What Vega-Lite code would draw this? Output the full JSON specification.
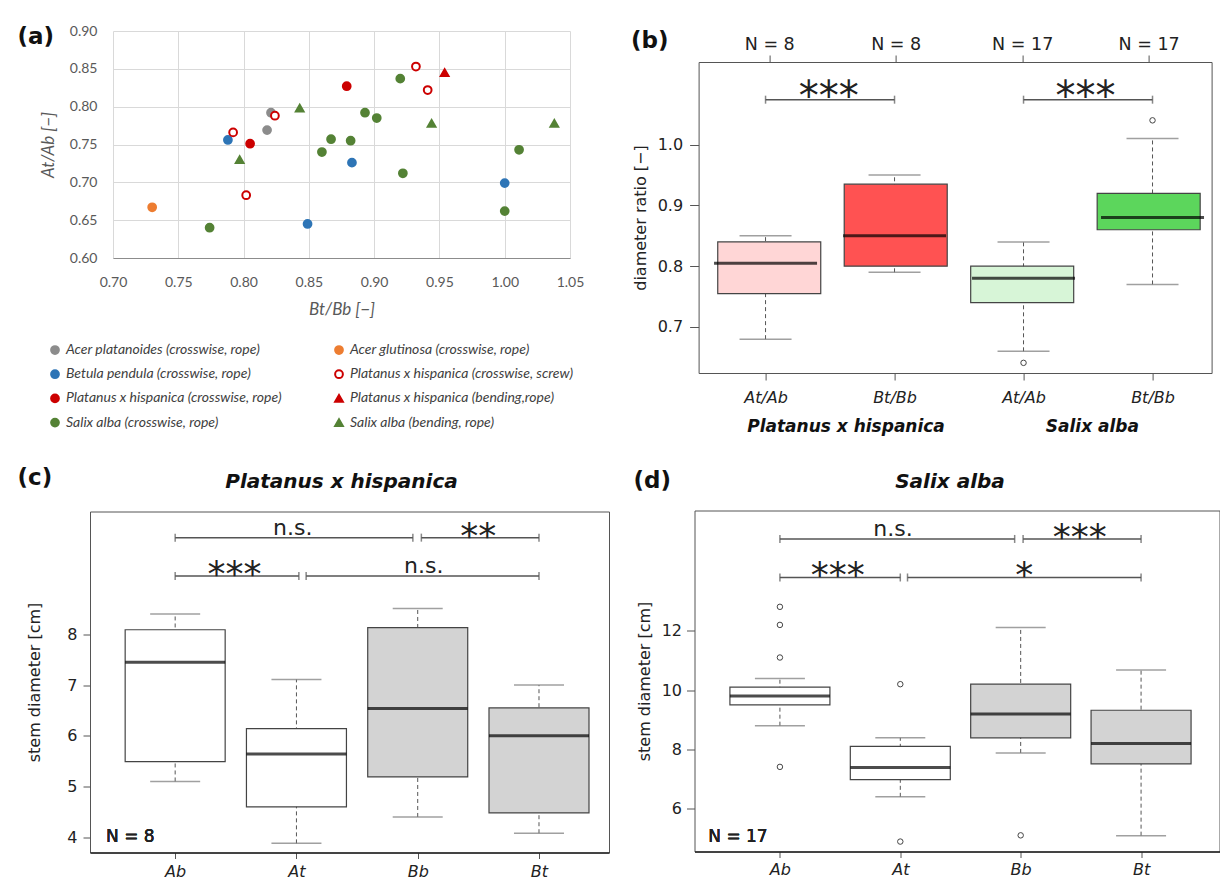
{
  "$schema": "https://vega.github.io/schema/vega-lite/v6.json",
  "background": "white",
  "padding": {"left": 16, "top": 23, "right": 0, "bottom": 0},
  "config": {
    "view": {"stroke": null},
    "font": "DejaVu Sans",
    "axis": {"labelColor": "#222", "titleColor": "#222", "tickColor": "#555", "titleFontWeight": "normal", "labelFont": "DejaVu Sans", "titleFont": "DejaVu Sans"},
    "title": {"color": "#111"}
  },
  "resolve": {"scale": {"fill": "independent", "stroke": "independent", "shape": "independent"}, "legend": {"fill": "independent", "stroke": "independent", "shape": "independent"}},
  "vconcat": [
    {
      "resolve": {"scale": {"fill": "independent", "stroke": "independent", "shape": "independent"}, "legend": {"fill": "independent", "stroke": "independent", "shape": "independent"}},
      "hconcat": [
        {
          "resolve": {"scale": {"fill": "independent", "stroke": "independent", "shape": "independent"}, "legend": {"fill": "independent", "stroke": "independent", "shape": "independent"}},
          "hconcat": [
            {"width": 1, "height": 1, "data": {"values": []}, "mark": "point", "encoding": {}},
            {
              "resolve": {"scale": {"fill": "independent", "stroke": "independent", "shape": "independent"}, "legend": {"fill": "independent", "stroke": "independent", "shape": "independent"}},
              "vconcat": [
                {"width": 1, "height": 1, "data": {"values": []}, "mark": "point", "encoding": {}},
                {
                  "width": 457, "height": 227,
                  "title": {"text": "(a)", "anchor": "start", "frame": "group", "offset": -25, "dx": -95.5, "fontSize": 23, "fontWeight": "bold", "font": "DejaVu Sans", "color": "#111"},
                  "data": {"values": [
                    {"series": "Acer platanoides (crosswise, rope)", "bt_bb": 0.821, "at_ab": 0.792},
                    {"series": "Acer platanoides (crosswise, rope)", "bt_bb": 0.818, "at_ab": 0.769},
                    {"series": "Acer glutinosa (crosswise, rope)", "bt_bb": 0.730, "at_ab": 0.667},
                    {"series": "Betula pendula (crosswise, rope)", "bt_bb": 0.788, "at_ab": 0.756},
                    {"series": "Betula pendula (crosswise, rope)", "bt_bb": 0.883, "at_ab": 0.726},
                    {"series": "Betula pendula (crosswise, rope)", "bt_bb": 0.849, "at_ab": 0.645},
                    {"series": "Betula pendula (crosswise, rope)", "bt_bb": 1.000, "at_ab": 0.699},
                    {"series": "Platanus x hispanica (crosswise, rope)", "bt_bb": 0.805, "at_ab": 0.751},
                    {"series": "Platanus x hispanica (crosswise, rope)", "bt_bb": 0.879, "at_ab": 0.827},
                    {"series": "Platanus x hispanica (crosswise, screw)", "bt_bb": 0.792, "at_ab": 0.766},
                    {"series": "Platanus x hispanica (crosswise, screw)", "bt_bb": 0.824, "at_ab": 0.788},
                    {"series": "Platanus x hispanica (crosswise, screw)", "bt_bb": 0.802, "at_ab": 0.683},
                    {"series": "Platanus x hispanica (crosswise, screw)", "bt_bb": 0.932, "at_ab": 0.853},
                    {"series": "Platanus x hispanica (crosswise, screw)", "bt_bb": 0.941, "at_ab": 0.822},
                    {"series": "Platanus x hispanica (bending,rope)", "bt_bb": 0.954, "at_ab": 0.845},
                    {"series": "Salix alba (crosswise, rope)", "bt_bb": 0.774, "at_ab": 0.640},
                    {"series": "Salix alba (crosswise, rope)", "bt_bb": 0.860, "at_ab": 0.740},
                    {"series": "Salix alba (crosswise, rope)", "bt_bb": 0.867, "at_ab": 0.757},
                    {"series": "Salix alba (crosswise, rope)", "bt_bb": 0.882, "at_ab": 0.755},
                    {"series": "Salix alba (crosswise, rope)", "bt_bb": 0.893, "at_ab": 0.792},
                    {"series": "Salix alba (crosswise, rope)", "bt_bb": 0.902, "at_ab": 0.785},
                    {"series": "Salix alba (crosswise, rope)", "bt_bb": 0.920, "at_ab": 0.837},
                    {"series": "Salix alba (crosswise, rope)", "bt_bb": 0.922, "at_ab": 0.712},
                    {"series": "Salix alba (crosswise, rope)", "bt_bb": 1.000, "at_ab": 0.662},
                    {"series": "Salix alba (crosswise, rope)", "bt_bb": 1.011, "at_ab": 0.743},
                    {"series": "Salix alba (bending, rope)", "bt_bb": 0.797, "at_ab": 0.730},
                    {"series": "Salix alba (bending, rope)", "bt_bb": 0.843, "at_ab": 0.798},
                    {"series": "Salix alba (bending, rope)", "bt_bb": 0.944, "at_ab": 0.778},
                    {"series": "Salix alba (bending, rope)", "bt_bb": 1.038, "at_ab": 0.778}
                  ]},
                  "mark": {"type": "point", "size": 60, "strokeWidth": 2, "opacity": 1},
                  "encoding": {
                    "x": {"field": "bt_bb", "type": "quantitative", "scale": {"domain": [0.7, 1.05], "nice": false, "zero": false},
                      "axis": {"title": "Bt/Bb [−]", "values": [0.7, 0.75, 0.8, 0.85, 0.9, 0.95, 1.0, 1.05], "format": ".2f", "grid": true, "gridColor": "#d9d9d9", "ticks": false, "tickSize": 0, "domain": true, "domainColor": "#8c8c8c", "domainWidth": 1.2, "labelFont": "Lato", "labelFontSize": 14, "labelColor": "#595959", "labelPadding": 17, "labelFlush": false, "labelOverlap": false, "titleFont": "Lato", "titleFontSize": 17, "titleFontStyle": "italic", "titleFontWeight": "normal", "titleColor": "#595959", "titlePadding": 12}},
                    "y": {"field": "at_ab", "type": "quantitative", "scale": {"domain": [0.6, 0.9], "nice": false, "zero": false},
                      "axis": {"title": "At/Ab [−]", "values": [0.6, 0.65, 0.7, 0.75, 0.8, 0.85, 0.9], "format": ".2f", "grid": true, "gridColor": "#d9d9d9", "ticks": false, "tickSize": 0, "domain": false, "labelFont": "Lato", "labelFontSize": 14, "labelColor": "#595959", "labelPadding": 16, "labelOverlap": false, "titleFont": "Lato", "titleFontSize": 17, "titleFontStyle": "italic", "titleFontWeight": "normal", "titleColor": "#595959", "titlePadding": 12}},
                    "shape": {"field": "series", "type": "nominal", "scale": {
                      "domain": ["Acer platanoides (crosswise, rope)", "Betula pendula (crosswise, rope)", "Platanus x hispanica (crosswise, rope)", "Salix alba (crosswise, rope)", "Acer glutinosa (crosswise, rope)", "Platanus x hispanica (crosswise, screw)", "Platanus x hispanica (bending,rope)", "Salix alba (bending, rope)"],
                      "range": ["circle", "circle", "circle", "circle", "circle", "circle", "triangle-up", "triangle-up"]},
                      "legend": {"title": null, "orient": "none", "legendX": -65, "legendY": 312, "columns": 2, "columnPadding": 49, "rowPadding": 8.2, "padding": 0, "labelFont": "Lato", "labelFontStyle": "italic", "labelFontSize": 14, "labelColor": "#404040", "labelLimit": 400, "labelOffset": 4, "symbolSize": 60, "symbolStrokeWidth": 2}},
                    "stroke": {"field": "series", "type": "nominal", "scale": {
                      "domain": ["Acer platanoides (crosswise, rope)", "Betula pendula (crosswise, rope)", "Platanus x hispanica (crosswise, rope)", "Salix alba (crosswise, rope)", "Acer glutinosa (crosswise, rope)", "Platanus x hispanica (crosswise, screw)", "Platanus x hispanica (bending,rope)", "Salix alba (bending, rope)"],
                      "range": ["#8c8c8c", "#2E75B6", "#CC0000", "#548235", "#ED7D31", "#CC0000", "#CC0000", "#548235"]},
                      "legend": {"title": null, "orient": "none", "legendX": -65, "legendY": 312, "columns": 2, "columnPadding": 49, "rowPadding": 8.2, "padding": 0, "labelFont": "Lato", "labelFontStyle": "italic", "labelFontSize": 14, "labelColor": "#404040", "labelLimit": 400, "labelOffset": 4, "symbolSize": 60, "symbolStrokeWidth": 2}},
                    "fill": {"field": "series", "type": "nominal", "scale": {
                      "domain": ["Acer platanoides (crosswise, rope)", "Betula pendula (crosswise, rope)", "Platanus x hispanica (crosswise, rope)", "Salix alba (crosswise, rope)", "Acer glutinosa (crosswise, rope)", "Platanus x hispanica (crosswise, screw)", "Platanus x hispanica (bending,rope)", "Salix alba (bending, rope)"],
                      "range": ["#8c8c8c", "#2E75B6", "#CC0000", "#548235", "#ED7D31", "#FFFFFF", "#CC0000", "#548235"]},
                      "legend": {"title": null, "orient": "none", "legendX": -65, "legendY": 312, "columns": 2, "columnPadding": 49, "rowPadding": 8.2, "padding": 0, "labelFont": "Lato", "labelFontStyle": "italic", "labelFontSize": 14, "labelColor": "#404040", "labelLimit": 400, "labelOffset": 4, "symbolSize": 60, "symbolStrokeWidth": 2}}
                  }
                }
              ],
              "spacing": 0
            }
          ],
          "spacing": 0
        },
        {
          "hconcat": [
            {"width": 1, "height": 1, "data": {"values": []}, "mark": "point", "encoding": {}},
            {
              "vconcat": [
                {"width": 1, "height": 1, "data": {"values": []}, "mark": "point", "encoding": {}},
                {
                  "width": 513, "height": 311,
                  "view": {"stroke": "#555", "strokeWidth": 1},
                  "title": {"text": "(b)", "anchor": "start", "frame": "group", "offset": -28.5, "dx": -67.5, "fontSize": 23, "fontWeight": "bold", "color": "#111"},
                  "data": {"values": [
                    {"box": "Platanus At/Ab", "pos": 1, "lo": 0.68, "q1": 0.755, "med": 0.805, "q3": 0.84, "hi": 0.85},
                    {"box": "Platanus Bt/Bb", "pos": 2, "lo": 0.79, "q1": 0.80, "med": 0.85, "q3": 0.935, "hi": 0.95},
                    {"box": "Salix At/Ab", "pos": 3, "lo": 0.66, "q1": 0.74, "med": 0.78, "q3": 0.80, "hi": 0.84},
                    {"box": "Salix Bt/Bb", "pos": 4, "lo": 0.77, "q1": 0.86, "med": 0.88, "q3": 0.92, "hi": 1.01}
                  ]},
                  "resolve": {"scale": {"x": "independent"}, "axis": {"y": "independent"}},
                  "layer": [
                    {
                      "mark": {"type": "rule", "strokeDash": [4, 3], "color": "#555", "strokeWidth": 1},
                      "encoding": {
                        "x": {"field": "pos", "type": "quantitative", "scale": {"domain": [0.481, 4.458], "nice": false, "zero": false},
                          "axis": {"orient": "bottom", "title": null, "values": [1, 2, 3, 4], "labelExpr": "datum.value % 2 == 1 ? 'At/Ab' : 'Bt/Bb'", "grid": false, "domain": false, "ticks": true, "tickSize": 7, "tickColor": "#555", "labelFontSize": 16, "labelFontStyle": "italic", "labelPadding": 9, "labelFlush": false, "labelOverlap": false}},
                        "y": {"field": "lo", "type": "quantitative", "scale": {"domain": [0.6243, 1.136], "nice": false, "zero": false},
                          "axis": {"orient": "left", "title": "diameter ratio [−]", "values": [0.7, 0.8, 0.9, 1.0], "format": ".1f", "grid": false, "domain": false, "ticks": true, "tickSize": 9, "labelFontSize": 16, "labelPadding": 7, "titleFontSize": 16, "titlePadding": 9, "labelOverlap": false}},
                        "y2": {"field": "hi"}
                      }
                    },
                    {
                      "mark": {"type": "tick", "orient": "horizontal", "size": 52, "thickness": 1.5, "color": "#777"},
                      "encoding": {
                        "x": {"field": "pos", "type": "quantitative", "scale": {"domain": [0.481, 4.458], "nice": false, "zero": false}, "axis": null},
                        "y": {"field": "lo", "type": "quantitative", "scale": {"domain": [0.6243, 1.136], "nice": false, "zero": false}, "axis": null}
                      }
                    },
                    {
                      "mark": {"type": "tick", "orient": "horizontal", "size": 52, "thickness": 1.5, "color": "#777"},
                      "encoding": {
                        "x": {"field": "pos", "type": "quantitative", "scale": {"domain": [0.481, 4.458], "nice": false, "zero": false}, "axis": null},
                        "y": {"field": "hi", "type": "quantitative", "scale": {"domain": [0.6243, 1.136], "nice": false, "zero": false}, "axis": null}
                      }
                    },
                    {
                      "mark": {"type": "bar", "width": 103, "stroke": "#444", "strokeWidth": 1.2},
                      "encoding": {
                        "x": {"field": "pos", "type": "quantitative", "scale": {"domain": [0.481, 4.458], "nice": false, "zero": false},
                          "axis": {"orient": "top", "title": " ", "titleColor": "#ffffff", "titleFontSize": 10, "titlePadding": 0.5, "values": [1, 2, 3, 4], "labelExpr": "datum.value <= 2 ? 'N = 8' : 'N = 17'", "grid": false, "domain": false, "ticks": true, "tickSize": 7, "tickColor": "#555", "labelFontSize": 17.5, "labelPadding": 2, "labelFlush": false, "labelOverlap": false}},
                        "y": {"field": "q1", "type": "quantitative", "scale": {"domain": [0.6243, 1.136], "nice": false, "zero": false}, "axis": null},
                        "y2": {"field": "q3"},
                        "fill": {"field": "box", "type": "nominal", "scale": {"domain": ["Platanus At/Ab", "Platanus Bt/Bb", "Salix At/Ab", "Salix Bt/Bb"], "range": ["#FFD6D6", "#FF5252", "#D7F5D7", "#5CD65C"]}, "legend": null}
                      }
                    },
                    {
                      "mark": {"type": "tick", "orient": "horizontal", "size": 103, "thickness": 3, "color": "#000"},
                      "encoding": {
                        "x": {"field": "pos", "type": "quantitative", "scale": {"domain": [0.481, 4.458], "nice": false, "zero": false},
                          "axis": {"orient": "bottom", "title": null, "values": [1.62, 3.53], "labelExpr": "datum.value < 2.5 ? 'Platanus x hispanica' : 'Salix alba'", "grid": false, "domain": false, "ticks": false, "tickSize": 0, "labelFontSize": 17, "labelFontWeight": "bold", "labelFontStyle": "italic", "labelColor": "#111", "labelPadding": 45, "labelLimit": 400, "labelFlush": false, "labelOverlap": false}},
                        "y": {"field": "med", "type": "quantitative", "scale": {"domain": [0.6243, 1.136], "nice": false, "zero": false}, "axis": null}
                      }
                    },
                    {
                      "data": {"values": [{"pos": 3, "val": 0.641}, {"pos": 4, "val": 1.040}]},
                      "mark": {"type": "point", "shape": "circle", "size": 30, "stroke": "#444", "strokeWidth": 1, "filled": false, "opacity": 1},
                      "encoding": {
                        "x": {"field": "pos", "type": "quantitative", "scale": {"domain": [0.481, 4.458], "nice": false, "zero": false}, "axis": null},
                        "y": {"field": "val", "type": "quantitative", "scale": {"domain": [0.6243, 1.136], "nice": false, "zero": false}, "axis": null}
                      }
                    },
                    {
                      "data": {"values": [{"x1": 1, "x2": 2, "xm": 1.49, "y": 1.074, "label": "***"}, {"x1": 3, "x2": 4, "xm": 3.48, "y": 1.074, "label": "***"}]},
                      "layer": [
                        {
                          "mark": {"type": "rule", "color": "#555", "strokeWidth": 1.5},
                          "encoding": {
                            "x": {"field": "x1", "type": "quantitative", "scale": {"domain": [0.481, 4.458], "nice": false, "zero": false}, "axis": null},
                            "x2": {"field": "x2"},
                            "y": {"field": "y", "type": "quantitative", "scale": {"domain": [0.6243, 1.136], "nice": false, "zero": false}, "axis": null}
                          }
                        },
                        {
                          "mark": {"type": "tick", "orient": "vertical", "size": 8, "thickness": 1.5, "color": "#555"},
                          "encoding": {
                            "x": {"field": "x1", "type": "quantitative", "scale": {"domain": [0.481, 4.458], "nice": false, "zero": false}, "axis": null},
                            "y": {"field": "y", "type": "quantitative", "scale": {"domain": [0.6243, 1.136], "nice": false, "zero": false}, "axis": null}
                          }
                        },
                        {
                          "mark": {"type": "tick", "orient": "vertical", "size": 8, "thickness": 1.5, "color": "#555"},
                          "encoding": {
                            "x": {"field": "x2", "type": "quantitative", "scale": {"domain": [0.481, 4.458], "nice": false, "zero": false}, "axis": null},
                            "y": {"field": "y", "type": "quantitative", "scale": {"domain": [0.6243, 1.136], "nice": false, "zero": false}, "axis": null}
                          }
                        },
                        {
                          "mark": {"type": "text", "fontSize": 40, "dy": 10, "baseline": "alphabetic", "align": "center", "color": "#222"},
                          "encoding": {
                            "x": {"field": "xm", "type": "quantitative", "scale": {"domain": [0.481, 4.458], "nice": false, "zero": false}, "axis": null},
                            "y": {"field": "y", "type": "quantitative", "scale": {"domain": [0.6243, 1.136], "nice": false, "zero": false}, "axis": null},
                            "text": {"field": "label"}
                          }
                        }
                      ]
                    }
                  ]
                }
              ],
              "spacing": 0
            }
          ],
          "spacing": 0
        }
      ],
      "spacing": 45.6
    },
    {
      "resolve": {"scale": {"fill": "independent", "stroke": "independent", "shape": "independent"}, "legend": {"fill": "independent", "stroke": "independent", "shape": "independent"}},
      "hconcat": [
        {
          "hconcat": [
            {"width": 1, "height": 1, "data": {"values": []}, "mark": "point", "encoding": {}},
            {
              "vconcat": [
                {"width": 1, "height": 1, "data": {"values": []}, "mark": "point", "encoding": {}},
                {
                  "title": {"text": "(c)", "anchor": "start", "frame": "group", "offset": -19, "dx": -72.5, "fontSize": 23, "fontWeight": "bold", "color": "#111"},
                  "vconcat": [
                    {
                      "width": 519, "height": 341,
                      "view": {"stroke": "#555", "strokeWidth": 1},
                      "title": {"text": "Platanus x hispanica", "anchor": "middle", "frame": "group", "offset": 20, "dx": -8, "fontSize": 20, "fontWeight": "bold", "fontStyle": "italic", "color": "#111"},
                      "data": {"values": [
                        {"cat": "Ab", "pos": 1, "lo": 5.10, "q1": 5.49, "med": 7.45, "q3": 8.09, "hi": 8.40},
                        {"cat": "At", "pos": 2, "lo": 3.88, "q1": 4.60, "med": 5.64, "q3": 6.14, "hi": 7.11},
                        {"cat": "Bb", "pos": 3, "lo": 4.40, "q1": 5.19, "med": 6.54, "q3": 8.13, "hi": 8.51},
                        {"cat": "Bt", "pos": 4, "lo": 4.08, "q1": 4.48, "med": 6.00, "q3": 6.55, "hi": 7.00}
                      ]},
                      "resolve": {"axis": {"x": "independent", "y": "independent"}},
                      "layer": [
                        {
                          "mark": {"type": "rule", "strokeDash": [4, 3], "color": "#555", "strokeWidth": 1},
                          "encoding": {
                            "x": {"field": "pos", "type": "quantitative", "scale": {"domain": [0.339, 4.536], "nice": false, "zero": false},
                              "axis": {"orient": "bottom", "title": null, "values": [1, 2, 3, 4], "labelExpr": "datum.value == 1 ? 'Ab' : datum.value == 2 ? 'At' : datum.value == 3 ? 'Bb' : 'Bt'", "grid": false, "domain": true, "domainColor": "#222", "domainWidth": 1.5, "ticks": true, "tickSize": 6, "labelFontSize": 16, "labelFontStyle": "italic", "labelPadding": 5, "labelFlush": false, "labelOverlap": false}},
                            "y": {"field": "lo", "type": "quantitative", "scale": {"domain": [3.70, 10.42], "nice": false, "zero": false},
                              "axis": {"orient": "left", "title": "stem diameter [cm]", "values": [4, 5, 6, 7, 8], "grid": false, "domain": false, "ticks": true, "tickSize": 7, "labelFontSize": 16, "labelPadding": 6, "titleFontSize": 16, "titlePadding": 24.5, "labelOverlap": false}},
                            "y2": {"field": "hi"}
                          }
                        },
                        {
                          "mark": {"type": "tick", "orient": "horizontal", "size": 50, "thickness": 1.5, "color": "#777"},
                          "encoding": {
                            "x": {"field": "pos", "type": "quantitative", "scale": {"domain": [0.339, 4.536], "nice": false, "zero": false}, "axis": null},
                            "y": {"field": "lo", "type": "quantitative", "scale": {"domain": [3.70, 10.42], "nice": false, "zero": false}, "axis": null}
                          }
                        },
                        {
                          "mark": {"type": "tick", "orient": "horizontal", "size": 50, "thickness": 1.5, "color": "#777"},
                          "encoding": {
                            "x": {"field": "pos", "type": "quantitative", "scale": {"domain": [0.339, 4.536], "nice": false, "zero": false}, "axis": null},
                            "y": {"field": "hi", "type": "quantitative", "scale": {"domain": [3.70, 10.42], "nice": false, "zero": false}, "axis": null}
                          }
                        },
                        {
                          "mark": {"type": "bar", "width": 100, "stroke": "#444", "strokeWidth": 1.2},
                          "encoding": {
                            "x": {"field": "pos", "type": "quantitative", "scale": {"domain": [0.339, 4.536], "nice": false, "zero": false}, "axis": null},
                            "y": {"field": "q1", "type": "quantitative", "scale": {"domain": [3.70, 10.42], "nice": false, "zero": false}, "axis": null},
                            "y2": {"field": "q3"},
                            "fill": {"field": "cat", "type": "nominal", "scale": {"domain": ["Ab", "At", "Bb", "Bt"], "range": ["#FFFFFF", "#FFFFFF", "#D3D3D3", "#D3D3D3"]}, "legend": null}
                          }
                        },
                        {
                          "mark": {"type": "tick", "orient": "horizontal", "size": 100, "thickness": 3, "color": "#000"},
                          "encoding": {
                            "x": {"field": "pos", "type": "quantitative", "scale": {"domain": [0.339, 4.536], "nice": false, "zero": false}, "axis": null},
                            "y": {"field": "med", "type": "quantitative", "scale": {"domain": [3.70, 10.42], "nice": false, "zero": false}, "axis": null}
                          }
                        },
                        {
                          "mark": {"type": "text", "fontSize": 17, "fontWeight": "normal", "align": "left", "baseline": "middle", "color": "#222"},
                          "encoding": {
                            "x": {"datum": 0.43, "type": "quantitative", "scale": {"domain": [0.339, 4.536], "nice": false, "zero": false}, "axis": null},
                            "y": {"datum": 4.0, "type": "quantitative", "scale": {"domain": [3.70, 10.42], "nice": false, "zero": false}, "axis": null},
                            "text": {"value": "N = 8"}
                          }
                        },
                        {
                          "data": {"values": [
                            {"x1": 1, "x2": 2.96, "xm": 1.97, "y": 9.905, "label": "n.s."},
                            {"x1": 3.03, "x2": 4, "xm": 3.5, "y": 9.905, "label": "**"},
                            {"x1": 1, "x2": 2.02, "xm": 1.49, "y": 9.15, "label": "***"},
                            {"x1": 2.08, "x2": 4, "xm": 3.05, "y": 9.15, "label": "n.s."}
                          ]},
                          "layer": [
                            {
                              "mark": {"type": "rule", "color": "#555", "strokeWidth": 1.5},
                              "encoding": {
                                "x": {"field": "x1", "type": "quantitative", "scale": {"domain": [0.339, 4.536], "nice": false, "zero": false}, "axis": null},
                                "x2": {"field": "x2"},
                                "y": {"field": "y", "type": "quantitative", "scale": {"domain": [3.70, 10.42], "nice": false, "zero": false}, "axis": null}
                              }
                            },
                            {
                              "mark": {"type": "tick", "orient": "vertical", "size": 8, "thickness": 1.5, "color": "#555"},
                              "encoding": {
                                "x": {"field": "x1", "type": "quantitative", "scale": {"domain": [0.339, 4.536], "nice": false, "zero": false}, "axis": null},
                                "y": {"field": "y", "type": "quantitative", "scale": {"domain": [3.70, 10.42], "nice": false, "zero": false}, "axis": null}
                              }
                            },
                            {
                              "mark": {"type": "tick", "orient": "vertical", "size": 8, "thickness": 1.5, "color": "#555"},
                              "encoding": {
                                "x": {"field": "x2", "type": "quantitative", "scale": {"domain": [0.339, 4.536], "nice": false, "zero": false}, "axis": null},
                                "y": {"field": "y", "type": "quantitative", "scale": {"domain": [3.70, 10.42], "nice": false, "zero": false}, "axis": null}
                              }
                            },
                            {
                              "transform": [{"filter": "datum.label != 'n.s.'"}],
                              "mark": {"type": "text", "fontSize": 36, "dy": 10, "baseline": "alphabetic", "align": "center", "color": "#222"},
                              "encoding": {
                                "x": {"field": "xm", "type": "quantitative", "scale": {"domain": [0.339, 4.536], "nice": false, "zero": false}, "axis": null},
                                "y": {"field": "y", "type": "quantitative", "scale": {"domain": [3.70, 10.42], "nice": false, "zero": false}, "axis": null},
                                "text": {"field": "label"}
                              }
                            },
                            {
                              "transform": [{"filter": "datum.label == 'n.s.'"}],
                              "mark": {"type": "text", "fontSize": 22, "dy": -3, "baseline": "alphabetic", "align": "center", "color": "#222"},
                              "encoding": {
                                "x": {"field": "xm", "type": "quantitative", "scale": {"domain": [0.339, 4.536], "nice": false, "zero": false}, "axis": null},
                                "y": {"field": "y", "type": "quantitative", "scale": {"domain": [3.70, 10.42], "nice": false, "zero": false}, "axis": null},
                                "text": {"field": "label"}
                              }
                            }
                          ]
                        }
                      ]
                    }
                  ]
                }
              ],
              "spacing": 0
            }
          ],
          "spacing": 0
        },
        {
          "hconcat": [
            {"width": 1, "height": 1, "data": {"values": []}, "mark": "point", "encoding": {}},
            {
              "vconcat": [
                {"width": 1, "height": 1, "data": {"values": []}, "mark": "point", "encoding": {}},
                {
                  "title": {"text": "(d)", "anchor": "start", "frame": "group", "offset": -21.5, "dx": -61, "fontSize": 23, "fontWeight": "bold", "color": "#111"},
                  "vconcat": [
                    {
                      "width": 525, "height": 341,
                      "view": {"stroke": "#555", "strokeWidth": 1},
                      "title": {"text": "Salix alba", "anchor": "middle", "frame": "group", "offset": 18.5, "dx": -7, "fontSize": 20, "fontWeight": "bold", "fontStyle": "italic", "color": "#111"},
                      "data": {"values": [
                        {"cat": "Ab", "pos": 1, "lo": 8.80, "q1": 9.50, "med": 9.80, "q3": 10.10, "hi": 10.39},
                        {"cat": "At", "pos": 2, "lo": 6.40, "q1": 6.98, "med": 7.39, "q3": 8.10, "hi": 8.39},
                        {"cat": "Bb", "pos": 3, "lo": 7.88, "q1": 8.39, "med": 9.19, "q3": 10.20, "hi": 12.11},
                        {"cat": "Bt", "pos": 4, "lo": 5.09, "q1": 7.51, "med": 8.20, "q3": 9.32, "hi": 10.68}
                      ]},
                      "resolve": {"axis": {"x": "independent", "y": "independent"}},
                      "layer": [
                        {
                          "mark": {"type": "rule", "strokeDash": [4, 3], "color": "#555", "strokeWidth": 1},
                          "encoding": {
                            "x": {"field": "pos", "type": "quantitative", "scale": {"domain": [0.332, 4.61], "nice": false, "zero": false},
                              "axis": {"orient": "bottom", "title": null, "values": [1, 2, 3, 4], "labelExpr": "datum.value == 1 ? 'Ab' : datum.value == 2 ? 'At' : datum.value == 3 ? 'Bb' : 'Bt'", "grid": false, "domain": true, "domainColor": "#222", "domainWidth": 1.5, "ticks": true, "tickSize": 6, "labelFontSize": 16, "labelFontStyle": "italic", "labelPadding": 4, "labelFlush": false, "labelOverlap": false}},
                            "y": {"field": "lo", "type": "quantitative", "scale": {"domain": [4.555, 16.06], "nice": false, "zero": false},
                              "axis": {"orient": "left", "title": "stem diameter [cm]", "values": [6, 8, 10, 12], "grid": false, "domain": false, "ticks": true, "tickSize": 8, "labelFontSize": 16, "labelPadding": 5, "titleFontSize": 16, "titlePadding": 9, "labelOverlap": false}},
                            "y2": {"field": "hi"}
                          }
                        },
                        {
                          "mark": {"type": "tick", "orient": "horizontal", "size": 50, "thickness": 1.5, "color": "#777"},
                          "encoding": {
                            "x": {"field": "pos", "type": "quantitative", "scale": {"domain": [0.332, 4.61], "nice": false, "zero": false}, "axis": null},
                            "y": {"field": "lo", "type": "quantitative", "scale": {"domain": [4.555, 16.06], "nice": false, "zero": false}, "axis": null}
                          }
                        },
                        {
                          "mark": {"type": "tick", "orient": "horizontal", "size": 50, "thickness": 1.5, "color": "#777"},
                          "encoding": {
                            "x": {"field": "pos", "type": "quantitative", "scale": {"domain": [0.332, 4.61], "nice": false, "zero": false}, "axis": null},
                            "y": {"field": "hi", "type": "quantitative", "scale": {"domain": [4.555, 16.06], "nice": false, "zero": false}, "axis": null}
                          }
                        },
                        {
                          "mark": {"type": "bar", "width": 100, "stroke": "#444", "strokeWidth": 1.2},
                          "encoding": {
                            "x": {"field": "pos", "type": "quantitative", "scale": {"domain": [0.332, 4.61], "nice": false, "zero": false}, "axis": null},
                            "y": {"field": "q1", "type": "quantitative", "scale": {"domain": [4.555, 16.06], "nice": false, "zero": false}, "axis": null},
                            "y2": {"field": "q3"},
                            "fill": {"field": "cat", "type": "nominal", "scale": {"domain": ["Ab", "At", "Bb", "Bt"], "range": ["#FFFFFF", "#FFFFFF", "#D3D3D3", "#D3D3D3"]}, "legend": null}
                          }
                        },
                        {
                          "mark": {"type": "tick", "orient": "horizontal", "size": 100, "thickness": 3, "color": "#000"},
                          "encoding": {
                            "x": {"field": "pos", "type": "quantitative", "scale": {"domain": [0.332, 4.61], "nice": false, "zero": false}, "axis": null},
                            "y": {"field": "med", "type": "quantitative", "scale": {"domain": [4.555, 16.06], "nice": false, "zero": false}, "axis": null}
                          }
                        },
                        {
                          "data": {"values": [
                            {"pos": 1, "val": 12.81}, {"pos": 1, "val": 12.20}, {"pos": 1, "val": 11.10}, {"pos": 1, "val": 7.41},
                            {"pos": 2, "val": 10.20}, {"pos": 2, "val": 4.89}, {"pos": 3, "val": 5.10}
                          ]},
                          "mark": {"type": "point", "shape": "circle", "size": 30, "stroke": "#444", "strokeWidth": 1, "filled": false, "opacity": 1},
                          "encoding": {
                            "x": {"field": "pos", "type": "quantitative", "scale": {"domain": [0.332, 4.61], "nice": false, "zero": false}, "axis": null},
                            "y": {"field": "val", "type": "quantitative", "scale": {"domain": [4.555, 16.06], "nice": false, "zero": false}, "axis": null}
                          }
                        },
                        {
                          "mark": {"type": "text", "fontSize": 17, "fontWeight": "normal", "align": "left", "baseline": "middle", "color": "#222"},
                          "encoding": {
                            "x": {"datum": 0.405, "type": "quantitative", "scale": {"domain": [0.332, 4.61], "nice": false, "zero": false}, "axis": null},
                            "y": {"datum": 5.06, "type": "quantitative", "scale": {"domain": [4.555, 16.06], "nice": false, "zero": false}, "axis": null},
                            "text": {"value": "N = 17"}
                          }
                        },
                        {
                          "data": {"values": [
                            {"x1": 1, "x2": 2.95, "xm": 1.94, "y": 15.10, "label": "n.s."},
                            {"x1": 3.02, "x2": 4, "xm": 3.49, "y": 15.10, "label": "***"},
                            {"x1": 1, "x2": 2.0, "xm": 1.48, "y": 13.80, "label": "***"},
                            {"x1": 2.06, "x2": 4, "xm": 3.03, "y": 13.80, "label": "*"}
                          ]},
                          "layer": [
                            {
                              "mark": {"type": "rule", "color": "#555", "strokeWidth": 1.5},
                              "encoding": {
                                "x": {"field": "x1", "type": "quantitative", "scale": {"domain": [0.332, 4.61], "nice": false, "zero": false}, "axis": null},
                                "x2": {"field": "x2"},
                                "y": {"field": "y", "type": "quantitative", "scale": {"domain": [4.555, 16.06], "nice": false, "zero": false}, "axis": null}
                              }
                            },
                            {
                              "mark": {"type": "tick", "orient": "vertical", "size": 8, "thickness": 1.5, "color": "#555"},
                              "encoding": {
                                "x": {"field": "x1", "type": "quantitative", "scale": {"domain": [0.332, 4.61], "nice": false, "zero": false}, "axis": null},
                                "y": {"field": "y", "type": "quantitative", "scale": {"domain": [4.555, 16.06], "nice": false, "zero": false}, "axis": null}
                              }
                            },
                            {
                              "mark": {"type": "tick", "orient": "vertical", "size": 8, "thickness": 1.5, "color": "#555"},
                              "encoding": {
                                "x": {"field": "x2", "type": "quantitative", "scale": {"domain": [0.332, 4.61], "nice": false, "zero": false}, "axis": null},
                                "y": {"field": "y", "type": "quantitative", "scale": {"domain": [4.555, 16.06], "nice": false, "zero": false}, "axis": null}
                              }
                            },
                            {
                              "transform": [{"filter": "datum.label != 'n.s.'"}],
                              "mark": {"type": "text", "fontSize": 36, "dy": 10, "baseline": "alphabetic", "align": "center", "color": "#222"},
                              "encoding": {
                                "x": {"field": "xm", "type": "quantitative", "scale": {"domain": [0.332, 4.61], "nice": false, "zero": false}, "axis": null},
                                "y": {"field": "y", "type": "quantitative", "scale": {"domain": [4.555, 16.06], "nice": false, "zero": false}, "axis": null},
                                "text": {"field": "label"}
                              }
                            },
                            {
                              "transform": [{"filter": "datum.label == 'n.s.'"}],
                              "mark": {"type": "text", "fontSize": 22, "dy": -3, "baseline": "alphabetic", "align": "center", "color": "#222"},
                              "encoding": {
                                "x": {"field": "xm", "type": "quantitative", "scale": {"domain": [0.332, 4.61], "nice": false, "zero": false}, "axis": null},
                                "y": {"field": "y", "type": "quantitative", "scale": {"domain": [4.555, 16.06], "nice": false, "zero": false}, "axis": null},
                                "text": {"field": "label"}
                              }
                            }
                          ]
                        }
                      ]
                    }
                  ]
                }
              ],
              "spacing": 3
            }
          ],
          "spacing": 0
        }
      ],
      "spacing": 22.5
    }
  ],
  "spacing": 30.5
}
